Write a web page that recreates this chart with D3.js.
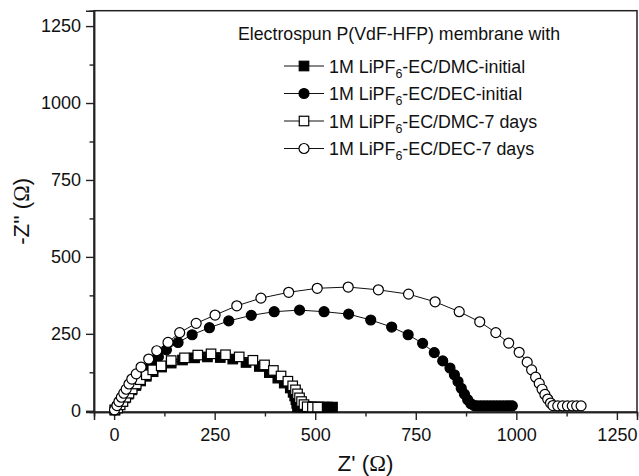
<!DOCTYPE html>
<html><head><meta charset="utf-8">
<script src="https://cdn.jsdelivr.net/npm/d3@7"></script>
<style>body{margin:0;background:#fff}svg{display:block}text{font-family:"Liberation Sans",Arial,sans-serif;fill:#111}</style>
</head><body><svg id="c" width="639" height="476"></svg>
<script>
const xTicks=[0,250,500,750,1000,1250];
const yTicks=[0,250,500,750,1000,1250];
const xMinor=[125,375,625,875,1125];
const yMinor=[125,375,625,875,1125];
const legendTitle="Electrospun P(VdF-HFP) membrane with";
const seriesNames=[["1M LiPF","6","-EC/DMC-initial"],["1M LiPF","6","-EC/DEC-initial"],["1M LiPF","6","-EC/DMC-7 days"],["1M LiPF","6","-EC/DEC-7 days"]];
const seriesSymbols=["square","circle","square","circle"];
const seriesFilled=[true,true,false,false];

const dmcInitial=[[2,2],[8,10],[14,20],[20,30],[27,42],[35,54],[44,68],[54,82],[66,97],[80,112],[97,127],[118,142],[142,155],[170,165],[200,172],[232,175],[264,173],[295,168],[328,157],[361,144],[386,124],[407,106],[423,90],[438,74],[445,60],[449,48],[452,36],[454,24],[456,13],[465,12],[474,12],[482,12],[490,12],[500,12],[510,12],[520,12],[530,12],[543,12]];
const decInitial=[[3,3],[9,18],[15,32],[22,47],[30,62],[39,78],[50,96],[62,114],[76,133],[92,152],[110,175],[130,198],[159,222],[194,247],[237,270],[285,292],[341,310],[398,322],[461,327],[522,322],[583,314],[638,295],[690,272],[731,247],[767,219],[796,189],[817,162],[835,139],[846,117],[855,95],[863,73],[871,54],[879,36],[887,23],[895,17],[903,16],[911,16],[919,16],[927,16],[935,16],[943,16],[951,16],[959,16],[967,16],[975,16],[983,16],[990,16]];
const dmc7days=[[2,3],[9,9],[15,19],[22,30],[29,44],[37,57],[45,71],[55,87],[65,101],[80,117],[96,133],[117,146],[142,163],[175,172],[208,181],[241,185],[277,182],[311,175],[345,164],[374,149],[396,131],[415,113],[432,96],[444,81],[451,68],[456,55],[461,42],[466,30],[472,20],[480,13],[493,12],[506,12]];
const dec7days=[[1,3],[7,17],[12,30],[18,44],[24,57],[30,70],[37,87],[44,103],[55,120],[67,142],[86,168],[106,195],[134,222],[163,254],[204,284],[251,311],[305,341],[365,366],[434,385],[505,398],[582,402],[657,393],[732,379],[798,354],[858,322],[909,289],[949,254],[981,220],[1007,190],[1027,158],[1038,133],[1048,109],[1057,89],[1064,70],[1071,53],[1078,38],[1085,25],[1091,17],[1103,16],[1115,16],[1127,16],[1139,16],[1150,16],[1161,16]];
const allSeries=[dmcInitial,decInitial,dmc7days,dec7days];

const svg=d3.select("#c");
const L=94,R=637,T=10.7,B=412;
const x=d3.scaleLinear().domain([-50,1300]).range([L,R]);
const y=d3.scaleLinear().domain([-4,1300]).range([B,T]);

function setSize(t,f){t.attr("font-size",f);t.selectAll("tspan.sub").attr("font-size",f*0.7);}
function bboxW(t){return t.node().getBBox().width;}
function fitWidth(t,target,base){
  let f=base;setSize(t,f);
  for(let k=0;k<3;k++){f=f*target/bboxW(t);setSize(t,f);}
  return f;
}

svg.append("rect").attr("x",L).attr("y",T).attr("width",R-L).attr("height",B-T)
  .attr("fill","none").attr("stroke","#222").attr("stroke-width",1.5);

const fs=18;
const gx=svg.append("g").attr("transform",`translate(0,${B})`)
  .call(d3.axisBottom(x).tickValues(xTicks).tickSize(8).tickPadding(8).tickFormat(d3.format("d")));
const gxm=svg.append("g").attr("transform",`translate(0,${B})`)
  .call(d3.axisBottom(x).tickValues(xMinor).tickSize(4.5).tickFormat(""));
const gy=svg.append("g").attr("transform",`translate(${L},0)`)
  .call(d3.axisLeft(y).tickValues(yTicks).tickSize(8).tickPadding(5).tickFormat(d3.format("d")));
const gym=svg.append("g").attr("transform",`translate(${L},0)`)
  .call(d3.axisLeft(y).tickValues(yMinor).tickSize(4.5).tickFormat(""));
[gx,gxm,gy,gym].forEach(g=>{
  g.select(".domain").attr("stroke","#222").attr("stroke-width",1.5);
  g.selectAll(".tick line").attr("stroke","#222").attr("stroke-width",1.4);
  g.selectAll(".tick text").attr("font-size",fs).attr("font-family","Liberation Sans, Arial, sans-serif").attr("fill","#111");
});

// axis titles
const xt=svg.append("text").attr("x",(L+R)/2).attr("y",471).attr("text-anchor","middle");
xt.append("tspan").text("Z' (");
xt.append("tspan").attr("font-family","Liberation Serif, Times New Roman, serif").text("Ω");
xt.append("tspan").text(")");
fitWidth(xt,56,20);
const yt=svg.append("text").attr("transform",`translate(29,${(T+B)/2}) rotate(-90)`).attr("text-anchor","middle");
yt.append("tspan").text("-Z'' (");
yt.append("tspan").attr("font-family","Liberation Serif, Times New Roman, serif").text("Ω");
yt.append("tspan").text(")");
fitWidth(yt,67,20);

// data
const line=d3.line().x(d=>x(d[0])).y(d=>y(d[1]));
const sq=9.5, cr=5;
function drawMarker(g,sym,filled,cx,cy){
  if(sym==="square"){
    g.append("rect").attr("x",cx-sq/2).attr("y",cy-sq/2).attr("width",sq).attr("height",sq)
      .attr("fill",filled?"#000":"#fff").attr("stroke","#000").attr("stroke-width",1.2);
  } else {
    g.append("circle").attr("cx",cx).attr("cy",cy).attr("r",cr)
      .attr("fill",filled?"#000":"#fff").attr("stroke","#000").attr("stroke-width",1.2);
  }
}
allSeries.forEach((data,i)=>{
  const g=svg.append("g");
  g.append("path").datum(data).attr("d",line).attr("fill","none").attr("stroke","#111").attr("stroke-width",1);
  data.forEach(d=>drawMarker(g,seriesSymbols[i],seriesFilled[i],x(d[0]),y(d[1])));
});

// legend
const lt=svg.append("text").attr("x",238).attr("y",40).text(legendTitle);
fitWidth(lt,322,17);
const rowY=[66,93.5,121,148.5];
const entries=[];
seriesNames.forEach((nm,i)=>{
  const g=svg.append("g");
  g.append("line").attr("x1",284).attr("x2",324).attr("y1",rowY[i]).attr("y2",rowY[i]).attr("stroke","#111").attr("stroke-width",1);
  drawMarker(g,seriesSymbols[i],seriesFilled[i],304,rowY[i]);
  const t=g.append("text").attr("x",329).attr("y",rowY[i]+6.5);
  t.append("tspan").text(nm[0]);
  t.append("tspan").attr("class","sub").attr("dy",5).text(nm[1]);
  t.append("tspan").attr("dy",-5).text(nm[2]);
  entries.push(t);
});
const ef=fitWidth(entries[0],196,18);
entries.forEach(t=>setSize(t,ef));
</script></body></html>
